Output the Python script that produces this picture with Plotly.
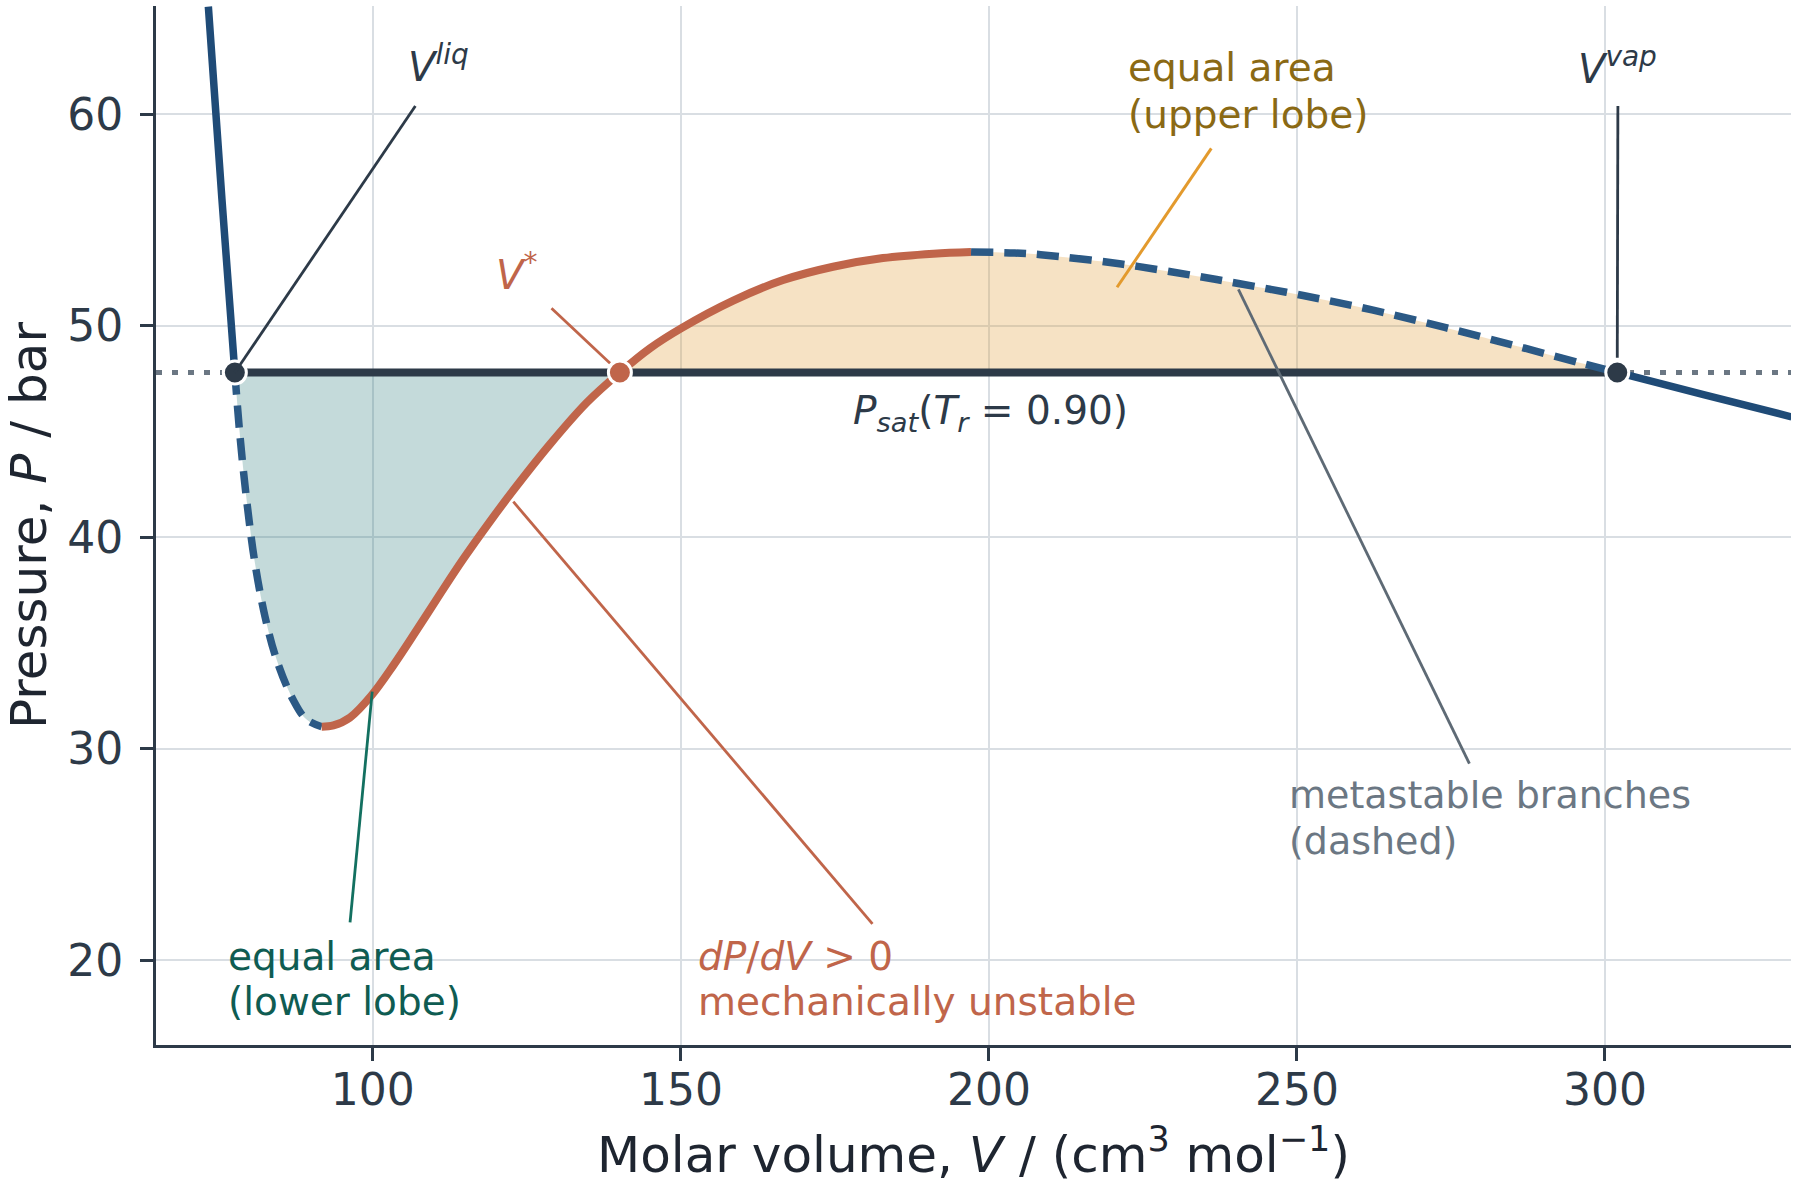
import plotly.graph_objects as go

# Van der Waals isotherm at Tr = 0.90
# (V in cm3/mol, P in bar), split by branch
v_stable_liq = [73.3, 75.5, 77.6]
p_stable_liq = [65.1, 56.0, 47.8]

v_meta_liq = [77.6, 78.4, 79.5, 80.8, 82.5, 84.4, 87.1, 89.2, 91.7]
p_meta_liq = [47.8, 44.9, 41.8, 38.9, 36.25, 34.2, 32.3, 31.4, 31.05]

v_unstable = [91.7, 93.6, 96.3, 99.8, 103.3, 107.1, 110.9, 114.7, 119.0, 122.8, 128.7,
              134.7, 140.1, 145.0, 150.1, 158.5, 166.6, 174.7, 182.8, 191.0, 197.1]
p_unstable = [31.05, 31.11, 31.49, 32.54, 33.94, 35.61, 37.32, 38.99, 40.75, 42.23, 44.39,
              46.37, 47.8, 48.95, 49.9, 51.2, 52.17, 52.8, 53.21, 53.42, 53.5]

v_meta_vap = [197.1, 204.2, 208.4, 221.5, 233.1, 240.5, 251.0, 262.2, 274.0, 285.8, 296.4, 302.0]
p_meta_vap = [53.5, 53.45, 53.37, 52.93, 52.39, 52.01, 51.44, 50.76, 49.93, 49.04, 48.22, 47.8]

v_stable_vap = [302.0, 316.0, 330.3]
p_stable_vap = [47.8, 46.75, 45.7]

# saturation pressure and the three roots
p_sat = 47.8
v_liq = 77.6
v_star = 140.1
v_vap = 302.0

x_ticks = [100, 150, 200, 250, 300]
y_ticks = [20, 30, 40, 50, 60]

# colours
BLUE = "#1f4b77"
BLUE_DASH = "#2b5985"
RED = "#c0654a"
DARK = "#2d3a48"
GRID = "#d9dee3"
FONT = "DejaVu Sans"
DASH = "22px,11px"

fig = go.Figure()

# lower lobe: curve from V_liq to V*, closed along P_sat
k_star = v_unstable.index(v_star)
lower_x = v_meta_liq + v_unstable[1:k_star + 1]
lower_y = p_meta_liq + p_unstable[1:k_star + 1]
fig.add_trace(go.Scatter(x=lower_x, y=lower_y, mode="lines", fill="toself",
                         fillcolor="rgba(42,122,122,0.28)", line=dict(width=0, shape="spline"),
                         hoverinfo="skip", showlegend=False))

# upper lobe: curve from V* to V_vap, closed along P_sat
upper_x = v_unstable[k_star:] + v_meta_vap[1:]
upper_y = p_unstable[k_star:] + p_meta_vap[1:]
fig.add_trace(go.Scatter(x=upper_x, y=upper_y, mode="lines", fill="toself",
                         fillcolor="rgba(224,160,60,0.3)", line=dict(width=0, shape="spline"),
                         hoverinfo="skip", showlegend=False))

# dotted extension of P_sat across the whole axis
fig.add_shape(type="line", xref="paper", yref="y", x0=0, x1=1, y0=p_sat, y1=p_sat,
              line=dict(color="#6b7783", width=5, dash="6px,10px"), layer="below")

# tie line
fig.add_trace(go.Scatter(x=[v_liq, v_vap], y=[p_sat, p_sat], mode="lines",
                         line=dict(color=DARK, width=8), showlegend=False))

# isotherm branches
fig.add_trace(go.Scatter(x=v_stable_liq, y=p_stable_liq, mode="lines",
                         line=dict(color=BLUE, width=7.5, shape="spline"), showlegend=False))
fig.add_trace(go.Scatter(x=v_meta_liq, y=p_meta_liq, mode="lines",
                         line=dict(color=BLUE_DASH, width=7.5, dash=DASH, shape="spline"),
                         showlegend=False))
fig.add_trace(go.Scatter(x=v_unstable, y=p_unstable, mode="lines",
                         line=dict(color=RED, width=8, shape="spline"), showlegend=False))
fig.add_trace(go.Scatter(x=v_meta_vap, y=p_meta_vap, mode="lines",
                         line=dict(color=BLUE_DASH, width=7.5, dash=DASH, shape="spline"),
                         showlegend=False))
fig.add_trace(go.Scatter(x=v_stable_vap, y=p_stable_vap, mode="lines",
                         line=dict(color=BLUE, width=7.5, shape="spline"), showlegend=False))

# roots
fig.add_trace(go.Scatter(x=[v_liq, v_vap], y=[p_sat, p_sat], mode="markers",
                         marker=dict(color=DARK, size=23, line=dict(color="white", width=3)),
                         showlegend=False))
fig.add_trace(go.Scatter(x=[v_star], y=[p_sat], mode="markers",
                         marker=dict(color=RED, size=23, line=dict(color="white", width=3)),
                         showlegend=False))

# pointer lines
def pointer(x0, y0, x1, y1, color, width=2.8):
    fig.add_shape(type="line", xref="x", yref="y", x0=x0, y0=y0, x1=x1, y1=y1,
                  line=dict(color=color, width=width), layer="above")

pointer(106.9, 60.4, v_liq, p_sat, DARK)
pointer(129.0, 50.84, 138.5, 48.24, RED)
pointer(302.1, 60.4, v_vap, 48.5, DARK)
pointer(236.1, 58.4, 220.8, 51.83, "#e39a2d", 3)
pointer(278.0, 29.3, 240.5, 51.73, "#5e6a75")
pointer(181.1, 21.73, 122.8, 41.69, RED)
pointer(96.3, 21.8, 99.9, 32.71, "#137060")

def label(x, y, text, color, size=39, xanchor="left"):
    fig.add_annotation(x=x, y=y, xref="x", yref="y", text=text, showarrow=False,
                       xanchor=xanchor, yanchor="middle", align=xanchor if xanchor != "center" else "center",
                       font=dict(family=FONT, size=size, color=color))

label(110.6, 62.4, "<i>V</i><sup><i>liq</i></sup>", DARK, 40, "center")
label(123.3, 52.55, "<i>V</i><sup>*</sup>", RED, 40, "center")
label(302.0, 62.3, "<i>V</i><sup><i>vap</i></sup>", DARK, 40, "center")
label(200.2, 45.9, "<i>P</i><sub><i>sat</i></sub>(<i>T</i><sub><i>r</i></sub> = 0.90)",
      DARK, 39, "center")

# two-line labels, one annotation per line to keep the tight line spacing
label(222.3, 62.2, "equal area", "#8a6914")
label(222.3, 59.98, "(upper lobe)", "#8a6914")
label(248.4, 27.8, "metastable branches", "#6b7783", 38)
label(248.4, 25.63, "(dashed)", "#6b7783", 38)
label(152.4, 20.2, "<i>dP</i>/<i>dV</i> > 0", RED)
label(152.4, 18.05, "mechanically unstable", RED)
label(76.1, 20.2, "equal area", "#0f5c52")
label(76.1, 18.05, "(lower lobe)", "#0f5c52")

axis_common = dict(showgrid=True, gridcolor=GRID, gridwidth=1.5, zeroline=False,
                   showline=True, linecolor=DARK, linewidth=3, mirror=False,
                   ticks="outside", ticklen=13, tickwidth=2.5, tickcolor=DARK,
                   tickfont=dict(family=FONT, size=44, color=DARK))

fig.update_xaxes(range=[64.8, 330.2], tickvals=x_ticks, ticklabelstandoff=-9,
                 title=dict(text="Molar volume, <i>V</i> / (cm<sup>3</sup> mol<sup>−1</sup>)",
                            font=dict(family=FONT, size=50, color="#1e2530"), standoff=24),
                 **axis_common)
fig.update_yaxes(range=[16.0, 65.13], tickvals=y_ticks, ticklabelstandoff=8,
                 title=dict(text="Pressure, <i>P</i> / bar",
                            font=dict(family=FONT, size=50, color="#1e2530"), standoff=10),
                 **axis_common)

fig.update_layout(width=1800, height=1193, plot_bgcolor="white", paper_bgcolor="white",
                  margin=dict(l=156, r=9, t=6, b=148), showlegend=False,
                  font=dict(family=FONT, color=DARK))

# drop the browser's default body margin so the figure sits at the window's corner
fig.write_html("out.html", config={"displayModeBar": False},
               post_script="document.body.style.margin='0';")
